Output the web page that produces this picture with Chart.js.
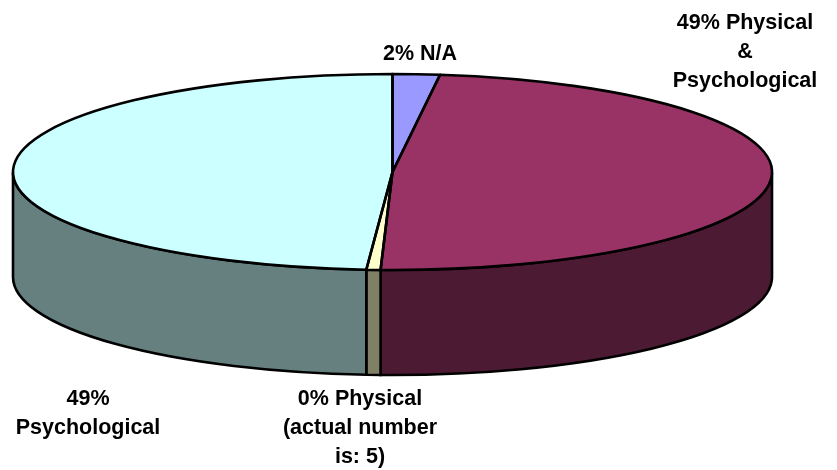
<!DOCTYPE html>
<html>
<head>
<meta charset="utf-8">
<script src="https://cdn.jsdelivr.net/npm/chart.js@4/dist/chart.umd.min.js"></script>
<style>
    html, body { margin: 0; padding: 0; background: #ffffff; }
    canvas { display: block; }
</style>
</head>
<body>
<canvas id="pieChart" width="837" height="470"></canvas>
<script>
// Данные
const categories = ['N/A', 'Physical & Psychological', 'Physical', 'Psychological'];
const shares = [2, 48.5, 0.6, 48.9];
const topColors = ['#9999ff', '#993366', '#ffffcc', '#ccffff'];
const sideColors = ['#4d4d80', '#4d1a33', '#808066', '#668080'];
const labelLines = [
    ['2% N/A'],
    ['49% Physical', '&', 'Psychological'],
    ['0% Physical', '(actual number', 'is: 5)'],
    ['49%', 'Psychological']
];

// Оформление
const labelAnchors = [[420, 60], [745, 28.5], [360, 405], [88, 405]];
const lineStep = 29.2;
const radiusX = 379.5;
const radiusY = 98;
const depth = 105;
const outline = 2.6;

// Псевдо-3D: сплющиваем круг в эллипс и дорисовываем боковую стенку
const tiltPlugin = {
    id: 'tilt',
    beforeDatasetsDraw(chart) {
        const ctx = chart.ctx;
        const arcs = chart.getDatasetMeta(0).data;
        const { x, y, outerRadius } = arcs[0];

        arcs.forEach((arc, i) => {
            const from = Math.max(arc.startAngle, 0);
            const to = Math.min(arc.endAngle, Math.PI);
            if (from >= to) return;
            ctx.beginPath();
            ctx.ellipse(x, y, radiusX, radiusY, 0, from, to);
            ctx.ellipse(x, y + depth, radiusX, radiusY, 0, to, from, true);
            ctx.closePath();
            ctx.fillStyle = sideColors[i];
            ctx.fill();
            ctx.lineWidth = outline;
            ctx.strokeStyle = '#000000';
            ctx.stroke();
        });

        ctx.save();
        ctx.translate(x, y);
        ctx.scale(radiusX / outerRadius, radiusY / outerRadius);
        ctx.translate(-x, -y);
    },
    afterDatasetsDraw(chart) {
        const ctx = chart.ctx;
        ctx.restore();

        const arcs = chart.getDatasetMeta(0).data;
        const { x, y } = arcs[0];
        ctx.lineWidth = outline;
        ctx.strokeStyle = '#000000';
        ctx.lineJoin = 'round';
        arcs.forEach(arc => {
            ctx.beginPath();
            ctx.moveTo(x, y);
            ctx.ellipse(x, y, radiusX, radiusY, 0, arc.startAngle, arc.endAngle);
            ctx.closePath();
            ctx.stroke();
        });

        ctx.fillStyle = '#000000';
        ctx.font = 'bold 21.5px "Liberation Sans", Arial, sans-serif';
        ctx.textAlign = 'center';
        ctx.textBaseline = 'alphabetic';
        labelLines.forEach((lines, i) => {
            lines.forEach((line, n) => {
                ctx.fillText(line, labelAnchors[i][0], labelAnchors[i][1] + n * lineStep);
            });
        });
    }
};

new Chart(document.getElementById('pieChart'), {
    type: 'pie',
    data: {
        labels: categories,
        datasets: [{
            data: shares,
            backgroundColor: topColors,
            borderWidth: 0
        }]
    },
    options: {
        responsive: false,
        animation: false,
        layout: { padding: { left: 0, right: 52, top: 0, bottom: 126 } },
        plugins: {
            legend: { display: false },
            tooltip: { enabled: false }
        }
    },
    plugins: [tiltPlugin]
});
</script>
</body>
</html>
